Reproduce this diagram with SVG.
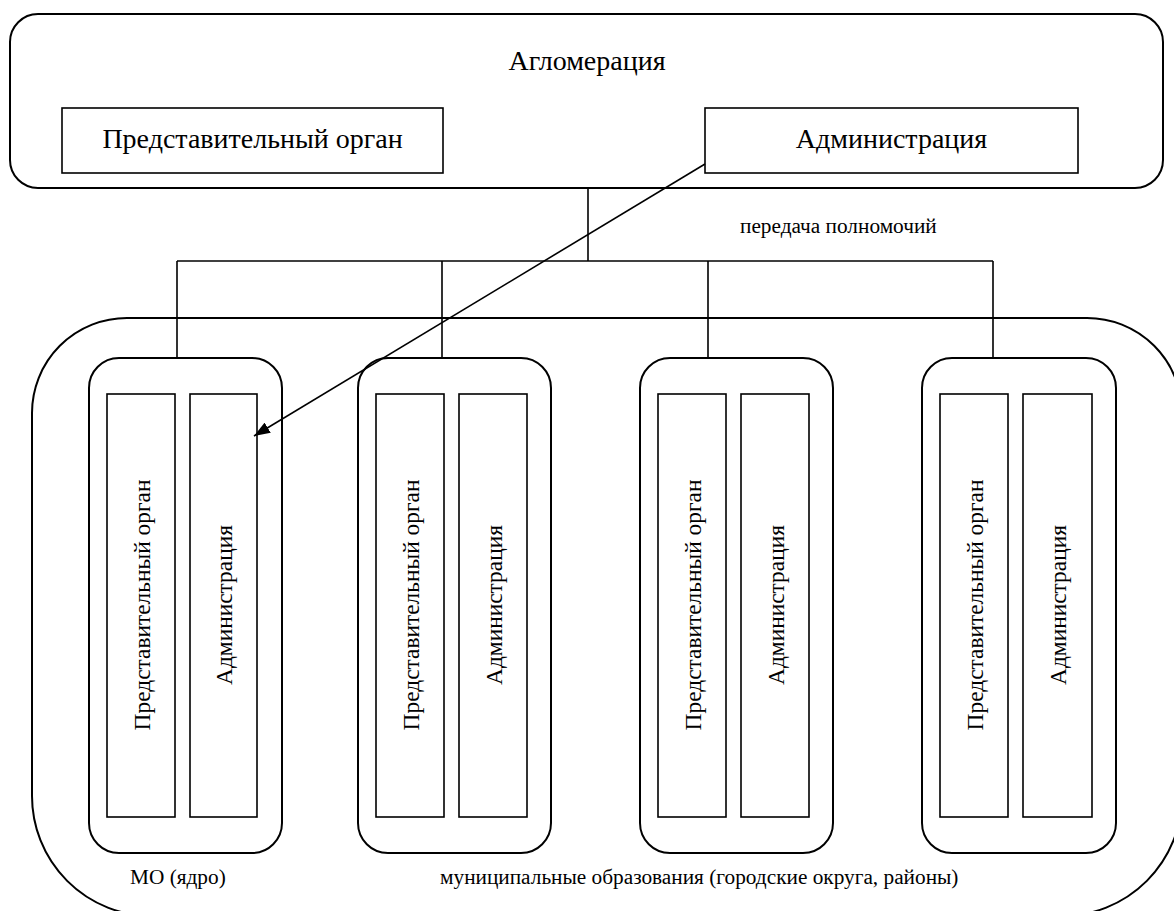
<svg xmlns="http://www.w3.org/2000/svg" width="1174" height="911" viewBox="0 0 1174 911">
  <style>
    .frame { fill: none; stroke: #000; stroke-width: 2; }
    .box { fill: #fff; stroke: #000; stroke-width: 1.6; }
    .line { fill: none; stroke: #000; stroke-width: 1.6; }
    .big { font-family: 'Liberation Serif', serif; font-size: 28px; fill: #000; text-anchor: middle; }
    .vert { font-family: 'Liberation Serif', serif; font-size: 23.4px; fill: #000; text-anchor: middle; }
    .small { font-family: 'Liberation Serif', serif; font-size: 21.3px; fill: #000; }
  </style>
  <defs>
    <marker id="arrow" viewBox="0 0 16 12" refX="16" refY="6" markerWidth="16" markerHeight="12" markerUnits="userSpaceOnUse" orient="auto">
      <path d="M0,0 L16,6 L0,12 z" fill="#000"/>
    </marker>
  </defs>

  <rect width="1174" height="911" fill="#fff"/>

  <!-- agglomeration level -->
  <g id="agglomeration">
    <rect class="frame" x="10" y="14" width="1153" height="174" rx="28" ry="28"/>
    <text class="big" x="587" y="70">Агломерация</text>
  </g>
  <g id="aggl-council">
    <rect class="box" x="62" y="108" width="381" height="65"/>
    <text class="big" x="252.5" y="148">Представительный орган</text>
  </g>
  <g id="aggl-admin">
    <rect class="box" x="705" y="108" width="373" height="65"/>
    <text class="big" x="891.5" y="148">Администрация</text>
  </g>

  <!-- municipalities container -->
  <g id="municipalities">
    <path class="frame" d="M127,318 H1087 A95,95 0 0 1 1182,413 V796 A120,120 0 0 1 1062,916 H152 A120,120 0 0 1 32,796 V413 A95,95 0 0 1 127,318 Z"/>
    <text class="small" x="130" y="884">МО (ядро)</text>
    <text class="small" x="440" y="884">муниципальные образования (городские округа, районы)</text>
  </g>

  <!-- municipality 1 (core) -->
  <g id="mo-1">
    <rect class="frame" x="89" y="358" width="193" height="495" rx="30" ry="30"/>
    <rect class="box" x="107" y="394" width="68" height="423"/>
    <rect class="box" x="190" y="394" width="67" height="423"/>
    <text class="vert" transform="translate(150,605) rotate(-90)">Представительный орган</text>
    <text class="vert" transform="translate(232,605) rotate(-90)">Администрация</text>
  </g>
  <!-- municipality 2 -->
  <g id="mo-2">
    <rect class="frame" x="358" y="358" width="193" height="495" rx="30" ry="30"/>
    <rect class="box" x="376" y="394" width="68" height="423"/>
    <rect class="box" x="459" y="394" width="68" height="423"/>
    <text class="vert" transform="translate(419,605) rotate(-90)">Представительный орган</text>
    <text class="vert" transform="translate(502,605) rotate(-90)">Администрация</text>
  </g>
  <!-- municipality 3 -->
  <g id="mo-3">
    <rect class="frame" x="640" y="358" width="193" height="495" rx="30" ry="30"/>
    <rect class="box" x="658" y="394" width="68" height="423"/>
    <rect class="box" x="741" y="394" width="68" height="423"/>
    <text class="vert" transform="translate(701,605) rotate(-90)">Представительный орган</text>
    <text class="vert" transform="translate(784,605) rotate(-90)">Администрация</text>
  </g>
  <!-- municipality 4 -->
  <g id="mo-4">
    <rect class="frame" x="922" y="358" width="194" height="495" rx="30" ry="30"/>
    <rect class="box" x="940" y="394" width="68" height="423"/>
    <rect class="box" x="1023" y="394" width="69" height="423"/>
    <text class="vert" transform="translate(983,605) rotate(-90)">Представительный орган</text>
    <text class="vert" transform="translate(1066,605) rotate(-90)">Администрация</text>
  </g>

  <!-- connectors -->
  <g id="connectors">
    <path class="line" d="M588,188 V261"/>
    <path class="line" d="M177,261 H993"/>
    <path class="line" d="M177,261 V358 M442,261 V358 M708,261 V358 M993,261 V358"/>
    <path class="line" d="M705,164 L254,436" marker-end="url(#arrow)"/>
    <text class="small" x="740" y="233">передача полномочий</text>
  </g>
</svg>
